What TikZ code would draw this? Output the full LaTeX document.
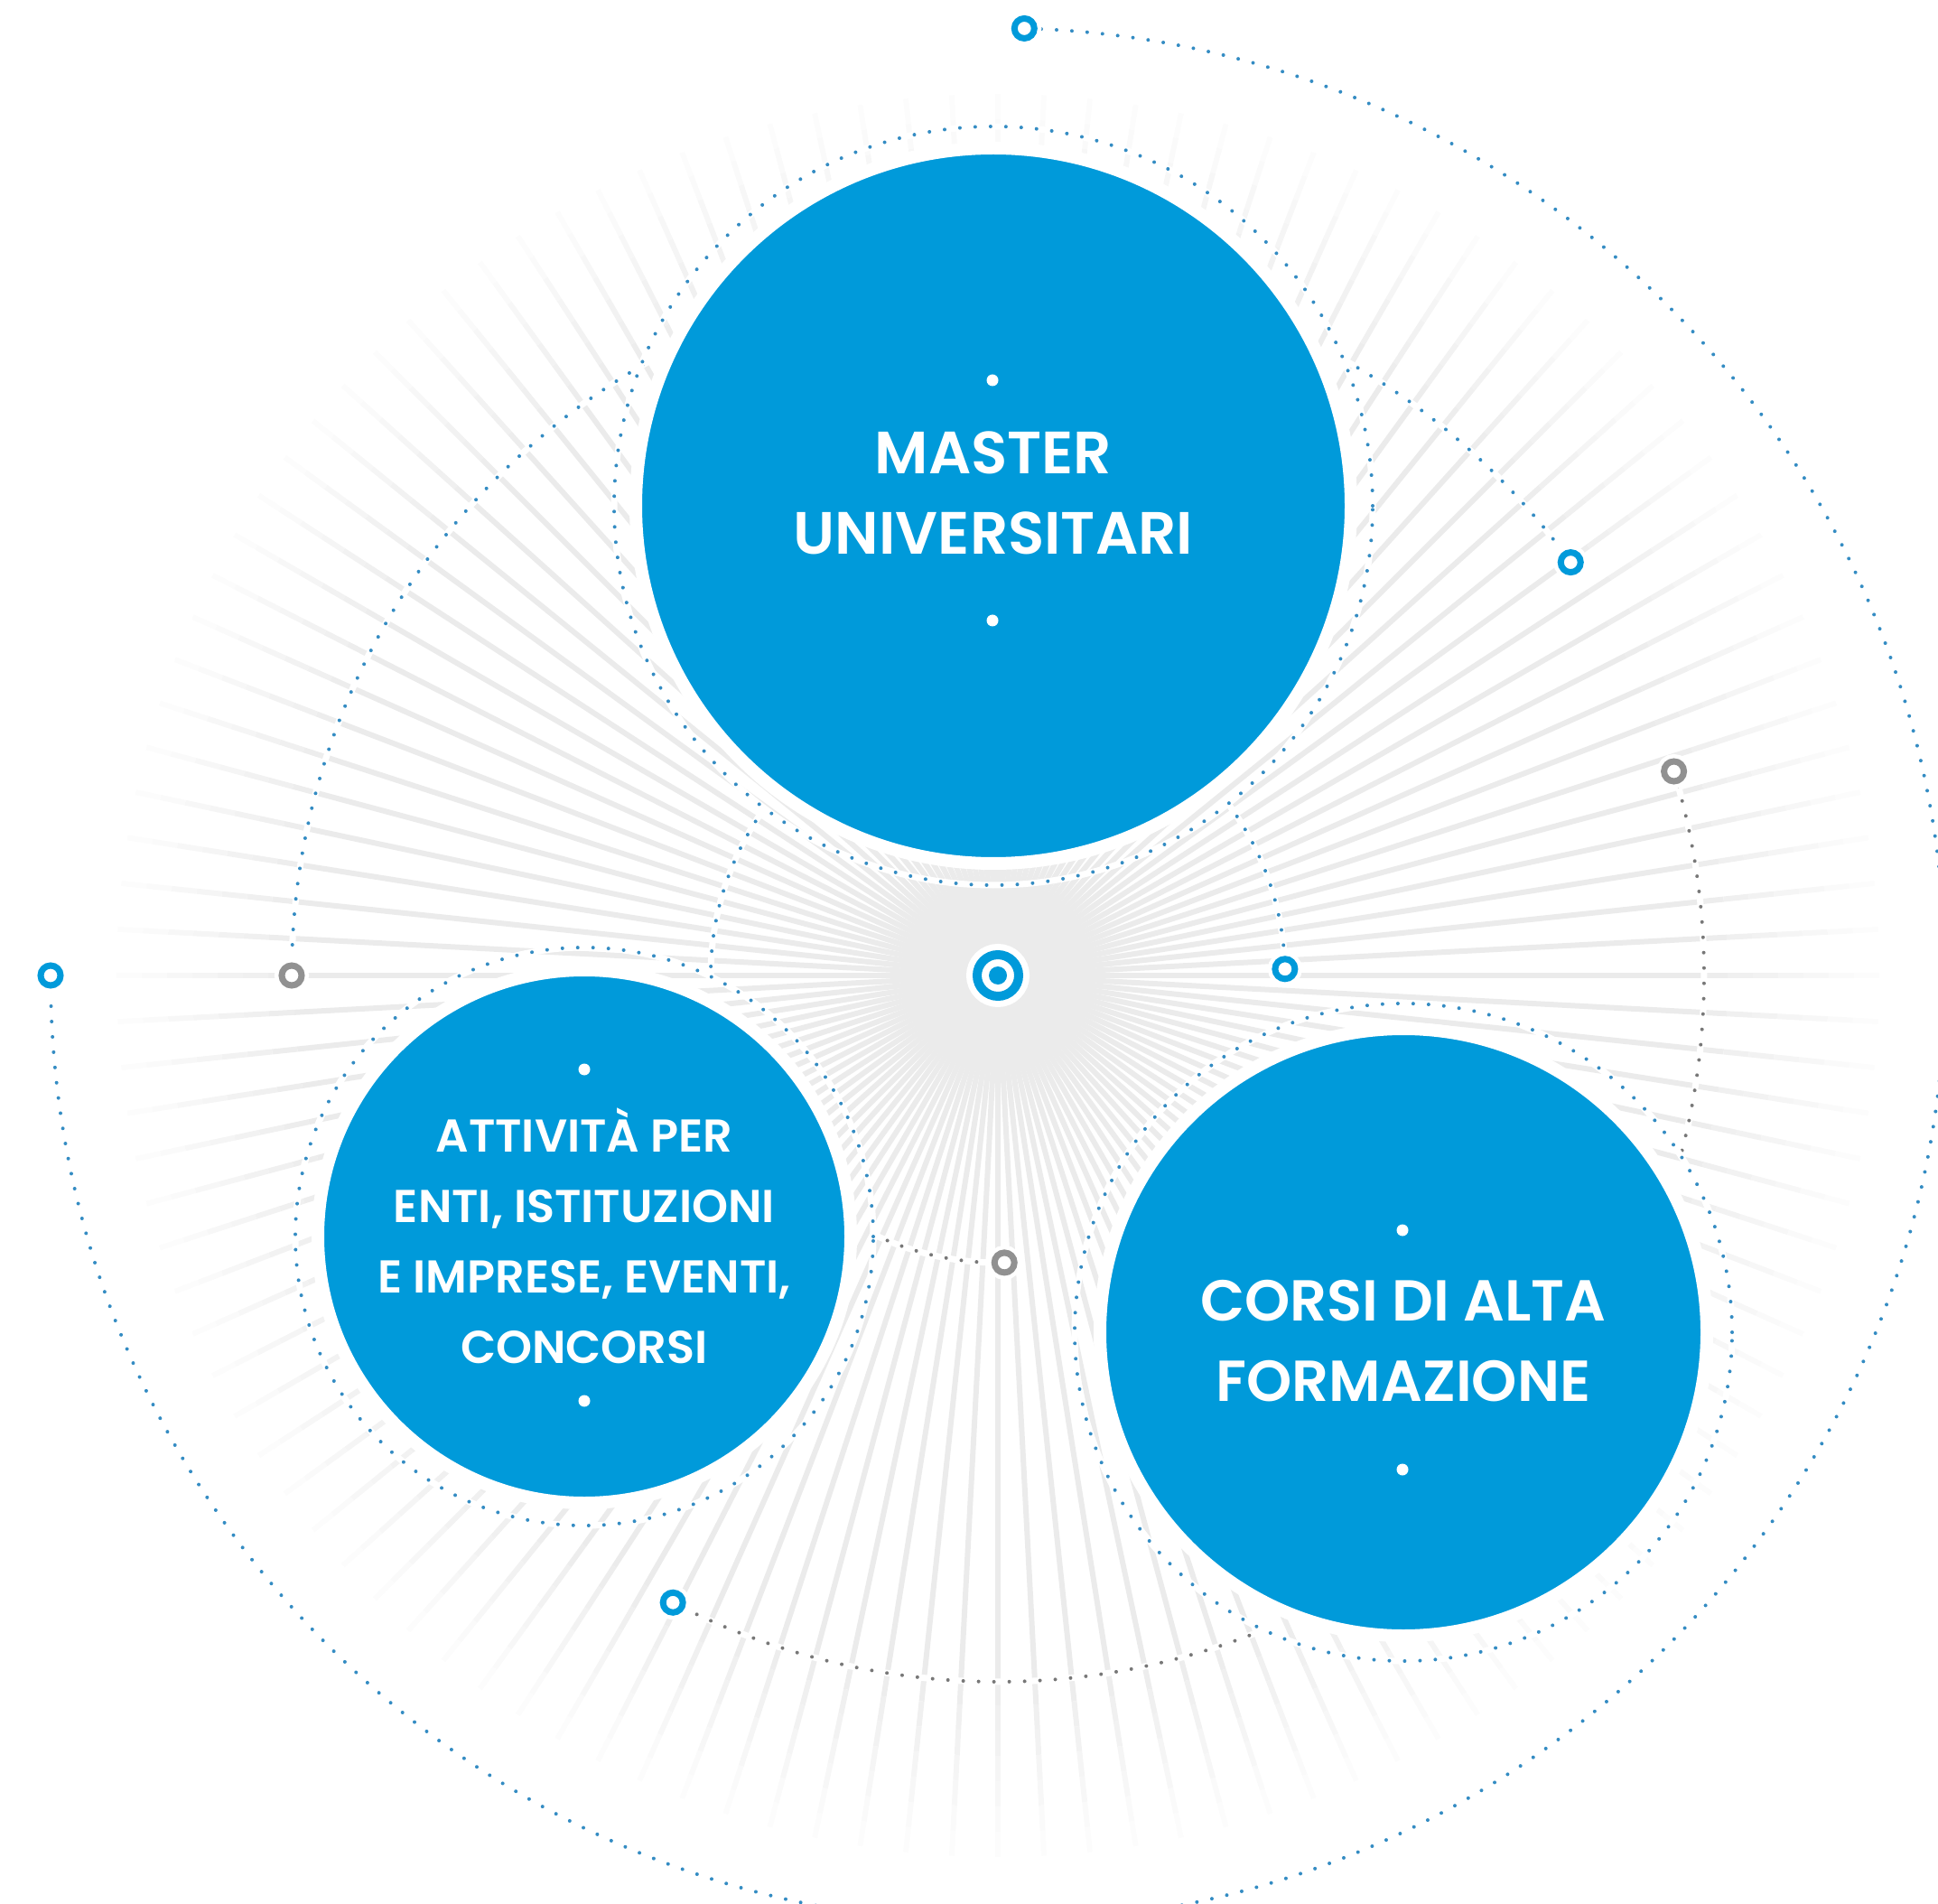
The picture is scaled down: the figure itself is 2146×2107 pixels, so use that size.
\documentclass[tikz,border=0pt]{standalone}
\usepackage{fontspec}
\setmainfont{Poppins}[UprightFont={* SemiBold}]
\usepackage{tikz}
\usetikzlibrary{calc}

\definecolor{discblue}{RGB}{0,154,218}
\definecolor{dotblue}{RGB}{52,140,195}
\definecolor{dotgray}{RGB}{120,120,120}
\definecolor{markgray}{RGB}{145,145,145}

\begin{document}
\begin{tikzpicture}[x=0.1mm, y=0.1mm,
    disc/.style={circle, fill=discblue, draw=white, line width=1.4mm, inner sep=0pt},
    disclabel/.style={text=white, align=center, inner sep=0pt},
    bluedots/.style={draw=dotblue, line width=0.4mm, line cap=round, dash pattern=on 0pt off 1.7mm, preaction={draw=white, solid, line width=0.7mm}},
    graydots/.style={bluedots, draw=dotgray},
    marker/.style={circle, draw=#1, fill=white, line width=0.7mm, minimum size=2.2mm, inner sep=0pt, preaction={draw=white, line width=1.6mm}}]
    \useasboundingbox (0,0) rectangle (2146,2107);
    \clip (0,0) rectangle (2146,2107);

    % Hub of the rays
    \coordinate (c) at (1105,1027);

    % Rays
    \foreach \a in {0,3,...,357} {
        \draw[line width=0.6mm, black!8] (c) -- ($(c)+(\a:780)$);
        \foreach \k/\t in {0/7,1/6,2/5,3/4,4/3,5/2,6/1}
            \draw[line width=0.6mm, black!\t] ($(c)+(\a:780+28*\k)$) -- ($(c)+(\a:808+28*\k)$);
    }

    % Marker positions
    \coordinate (outertop) at ($(c)+(88.4:1049)$);
    \coordinate (outerleft) at ($(c)+(180:1049)$);
    \coordinate (midleft) at ($(c)+(180:782)$);
    \coordinate (midupper) at ($(c)+(35.8:782)$);
    \coordinate (midright) at ($(c)+(16.8:782)$);
    \coordinate (midlow) at ($(c)+(-117.4:782)$);
    \coordinate (innerright) at ($(c)+(1.3:318)$);
    \coordinate (innerlow) at ($(c)+(-88.7:318)$);

    % Orbits round the hub
    \draw[bluedots] (outerleft) arc[start angle=180, end angle=448.4, radius=1049];
    \draw[bluedots] (midleft) arc[start angle=180, end angle=119.4, radius=782];
    \draw[bluedots] ($(c)+(60.6:782)$) arc[start angle=60.6, end angle=35.8, radius=782];
    \draw[graydots] (midright) arc[start angle=16.8, end angle=-14.8, radius=782];
    \draw[graydots] ($(c)+(-67.9:782)$) arc[start angle=-67.9, end angle=-117.4, radius=782];
    \draw[bluedots] ($(c)+(144.5:318)$) arc[start angle=144.5, end angle=180, radius=318];
    \draw[bluedots] ($(c)+(36.7:318)$) arc[start angle=36.7, end angle=1.3, radius=318];
    \draw[graydots] ($(c)+(244.3:318)$) arc[start angle=244.3, end angle=271.3, radius=318];

    % Rings round the discs
    \draw[bluedots] (1100,1547) circle[radius=420];
    \draw[bluedots] (647,738) circle[radius=320];
    \draw[bluedots] (1554,632) circle[radius=364];

    % Master Node
    \node[disc, minimum size=79.2mm] (master) at (1100,1547) {};
    \node[disclabel, font=\fontsize{18.8}{25.3}\selectfont] (mastertext) at (1100,1561) {MASTER\\UNIVERSITARI};
    \fill[white] (1099,1686) circle[radius=6.5];
    \fill[white] (1099,1420) circle[radius=6.5];

    % Attivita Node
    \node[disc, minimum size=59mm] (attivita) at (647,738) {};
    \node[disclabel, font=\fontsize{14.5}{22.2}\selectfont] (attivitatext) at (647,739) {ATTIVITÀ PER\\ENTI, ISTITUZIONI\\E IMPRESE, EVENTI,\\CONCORSI};
    \fill[white] (647,923) circle[radius=6.5];
    \fill[white] (647,556) circle[radius=6.5];

    % Corsi Node
    \node[disc, minimum size=67.2mm] (corsi) at (1554,632) {};
    \node[disclabel, font=\fontsize{18.2}{25.3}\selectfont] (corsitext) at (1554,622) {CORSI DI ALTA\\FORMAZIONE};
    \fill[white] (1553,745) circle[radius=6.5];
    \fill[white] (1553,480) circle[radius=6.5];

    % Markers
    \node[marker=discblue] (m1) at (outertop) {};
    \node[marker=discblue] (m2) at (outerleft) {};
    \node[marker=markgray] (m3) at (midleft) {};
    \node[marker=discblue] (m4) at (midupper) {};
    \node[marker=markgray] (m5) at (midright) {};
    \node[marker=discblue] (m6) at (midlow) {};
    \node[marker=discblue] (m7) at (innerright) {};
    \node[marker=markgray] (m8) at (innerlow) {};

    % Hub target
    \node[circle, draw=discblue, fill=white, line width=1mm, minimum size=4.6mm, inner sep=0pt, preaction={draw=white, line width=2.4mm}] (hub) at (c) {};
    \fill[discblue] (hub.center) circle[radius=10];
\end{tikzpicture}
\end{document}
